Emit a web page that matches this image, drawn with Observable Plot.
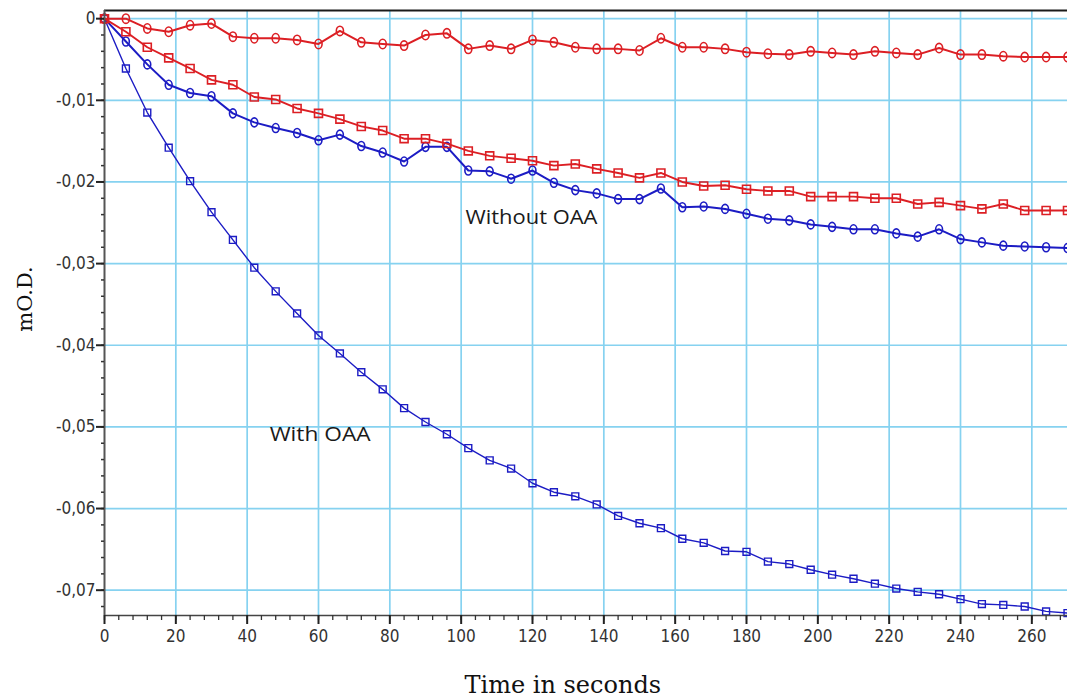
<!DOCTYPE html>
<html>
<head>
<meta charset="utf-8">
<script src="https://cdn.jsdelivr.net/npm/d3@7"></script>
<script src="https://cdn.jsdelivr.net/npm/@observablehq/plot@0.6"></script>
<style>
  html, body { margin: 0; padding: 0; background: #fff; }
  #chart svg { display: block; }
</style>
</head>
<body>
<div id="chart"></div>
<script>
// ---- data ----
const time = [0, 6, 12, 18, 24, 30, 36, 42, 48, 54, 60, 66, 72, 78, 84, 90, 96, 102, 108, 114, 120,
  126, 132, 138, 144, 150, 156, 162, 168, 174, 180, 186, 192, 198, 204, 210, 216, 222, 228, 234, 240,
  246, 252, 258, 264, 270];

// Without OAA – red circles
const redCircles = [0, 0, -0.0012, -0.0016, -0.0008, -0.0006, -0.0022, -0.0024, -0.0024, -0.0026, -0.0031,
  -0.0015, -0.0029, -0.0031, -0.0033, -0.0020, -0.0018, -0.0037, -0.0033, -0.0037, -0.0026,
  -0.0029, -0.0035, -0.0037, -0.0037, -0.0039, -0.0024, -0.0035, -0.0035, -0.0037, -0.0041,
  -0.0043, -0.0044, -0.0040, -0.0042, -0.0044, -0.0040, -0.0042, -0.0044, -0.0036, -0.0044,
  -0.0044, -0.0046, -0.0047, -0.0047, -0.0047];

// Without OAA – red squares
const redSquares = [0, -0.0016, -0.0035, -0.0048, -0.0061, -0.0075, -0.0081, -0.0096, -0.0099, -0.0110, -0.0116,
  -0.0123, -0.0132, -0.0137, -0.0147, -0.0147, -0.0153, -0.0162, -0.0168, -0.0171, -0.0174,
  -0.0180, -0.0178, -0.0184, -0.0189, -0.0195, -0.0189, -0.0200, -0.0205, -0.0204, -0.0209,
  -0.0211, -0.0211, -0.0218, -0.0218, -0.0218, -0.0220, -0.0220, -0.0227, -0.0225, -0.0229,
  -0.0233, -0.0227, -0.0235, -0.0235, -0.0235];

// Without OAA – blue circles
const blueCircles = [0, -0.0028, -0.0056, -0.0081, -0.0091, -0.0095, -0.0116, -0.0127, -0.0134, -0.0140, -0.0149,
  -0.0142, -0.0156, -0.0164, -0.0175, -0.0157, -0.0157, -0.0186, -0.0187, -0.0196, -0.0186,
  -0.0201, -0.0210, -0.0214, -0.0221, -0.0221, -0.0208, -0.0231, -0.0230, -0.0233, -0.0239,
  -0.0245, -0.0247, -0.0252, -0.0255, -0.0258, -0.0258, -0.0263, -0.0267, -0.0258, -0.0270,
  -0.0274, -0.0278, -0.0279, -0.0280, -0.0281];

// With OAA – blue squares
const blueSquares = [0, -0.0061, -0.0115, -0.0158, -0.0199, -0.0237, -0.0271, -0.0305, -0.0334, -0.0361, -0.0388,
  -0.0410, -0.0433, -0.0454, -0.0477, -0.0494, -0.0509, -0.0526, -0.0541, -0.0551, -0.0569,
  -0.0580, -0.0585, -0.0595, -0.0609, -0.0618, -0.0624, -0.0637, -0.0642, -0.0652, -0.0653,
  -0.0665, -0.0668, -0.0675, -0.0681, -0.0686, -0.0692, -0.0698, -0.0702, -0.0705, -0.0711,
  -0.0717, -0.0718, -0.0720, -0.0726, -0.0728];

const xTicks = [0, 20, 40, 60, 80, 100, 120, 140, 160, 180, 200, 220, 240, 260];
const yTicks = [0, -0.01, -0.02, -0.03, -0.04, -0.05, -0.06, -0.07];
const annotations = ["Without OAA", "With OAA"];
const xLabel = "Time in seconds";
const yLabel = "mO.D.";

// ---- styles / layout ----
const xDomain = [0, 270];
const yDomain = [-0.0731, 0.001];
const xMinorTicks = d3.range(0, 270, 4);
const yMinorTicks = d3.range(0, -0.0731, -0.002);
const RED = "#dc1f24";
const BLUE = "#1c1cc4";
const GRID = "#86d2f0";
const tickFont = "'Liberation Sans Narrow', 'DejaVu Sans Condensed', 'Liberation Sans', sans-serif";

// vertical-oval marker
const ellipse = {
  draw(ctx, size) {
    const r = Math.sqrt(size / Math.PI);
    const rx = r * 0.76, ry = r, k = 0.5523;
    ctx.moveTo(rx, 0);
    ctx.bezierCurveTo(rx, k * ry, k * rx, ry, 0, ry);
    ctx.bezierCurveTo(-k * rx, ry, -rx, k * ry, -rx, 0);
    ctx.bezierCurveTo(-rx, -k * ry, -k * rx, -ry, 0, -ry);
    ctx.bezierCurveTo(k * rx, -ry, rx, -k * ry, rx, 0);
    ctx.closePath();
  }
};

const series = [
  {name: "With OAA squares", values: blueSquares, color: BLUE, symbol: "square", r: 3.9, lw: 1.4, mw: 1.4},
  {name: "Without OAA circles (blue)", values: blueCircles, color: BLUE, symbol: ellipse, r: 4.5, lw: 2, mw: 1.6},
  {name: "Without OAA squares (red)", values: redSquares, color: RED, symbol: "square", r: 4.5, lw: 1.9, mw: 1.6},
  {name: "Without OAA circles (red)", values: redCircles, color: RED, symbol: ellipse, r: 4.7, lw: 2, mw: 1.6}
];

const yFmt = d => d === 0 ? "0" : "-" + Math.abs(d).toFixed(2).replace(".", ",");

const marks = [
  Plot.ruleX(xTicks.filter(d => d > 0), {stroke: GRID, strokeWidth: 1.7}),
  Plot.ruleY(yTicks, {stroke: GRID, strokeWidth: 1.7})
];

for (const s of series) {
  const rows = time.map((t, i) => ({t, v: s.values[i]}));
  marks.push(Plot.line(rows, {x: "t", y: "v", stroke: s.color, strokeWidth: s.lw}));
  marks.push(Plot.dot(rows, {x: "t", y: "v", symbol: s.symbol, r: s.r, stroke: s.color, strokeWidth: s.mw, fill: "none"}));
}

marks.push(
  // frame lines
  Plot.ruleY([yDomain[1]], {stroke: "#1a1a1a", strokeWidth: 2}),
  Plot.ruleY([yDomain[0]], {stroke: "#444", strokeWidth: 1.6}),
  Plot.ruleX([xDomain[0]], {stroke: "#555", strokeWidth: 2}),
  // axes
  Plot.axisX(xMinorTicks, {tickSize: 5, tickFormat: () => "", stroke: "#333", strokeWidth: 1.3}),
  Plot.axisX(xTicks, {tickSize: 9, tickPadding: 5, tickFormat: d => String(d), stroke: "#222", strokeWidth: 2,
    fontSize: 17, fontFamily: tickFont, fill: "#333", label: null}),
  Plot.axisY(yMinorTicks, {tickSize: 3, tickFormat: () => "", stroke: "#333", strokeWidth: 1.5}),
  Plot.axisY(yTicks, {tickSize: 8, tickPadding: 1, tickFormat: yFmt, stroke: "#222", strokeWidth: 2,
    fontSize: 17, fontFamily: tickFont, fill: "#333", label: null}),
  // annotations
  Plot.text([annotations[0]], {x: 101.2, y: -0.02437, text: d => d, textAnchor: "start", lineAnchor: "middle",
    fontSize: 20, fontFamily: "'Open Sans', sans-serif", fill: "#1a1a1a"}),
  Plot.text([annotations[1]], {x: 46.3, y: -0.0509, text: d => d, textAnchor: "start", lineAnchor: "middle",
    fontSize: 20, fontFamily: "'Open Sans', sans-serif", fill: "#1a1a1a"}),
  // axis titles
  Plot.text([xLabel], {x: 128.5, frameAnchor: "bottom", dy: 70, text: d => d, textAnchor: "middle", lineAnchor: "middle",
    fontSize: 24, fontFamily: "'DejaVu Serif', serif", fill: "#111"}),
  Plot.text([yLabel], {y: -0.03433, frameAnchor: "left", dx: -79, rotate: -90, text: d => d,
    textAnchor: "middle", lineAnchor: "middle",
    fontSize: 21, fontFamily: "'DejaVu Serif', serif", fill: "#111"})
);

const chart = Plot.plot({
  width: 1067,
  height: 698,
  marginLeft: 104,
  marginRight: 0,
  marginTop: 10,
  marginBottom: 83,
  x: {domain: xDomain, axis: null, label: null},
  y: {domain: yDomain, axis: null, label: null},
  style: {background: "#fff", overflow: "visible"},
  marks
});

// stretch annotation text to the reference widths
const widths = {"Without OAA": 132, "With OAA": 101};
d3.select(chart).selectAll("text").each(function () {
  const w = widths[this.textContent];
  if (w) { this.setAttribute("textLength", w); this.setAttribute("lengthAdjust", "spacingAndGlyphs"); }
});

document.getElementById("chart").appendChild(chart);
</script>
</body>
</html>
